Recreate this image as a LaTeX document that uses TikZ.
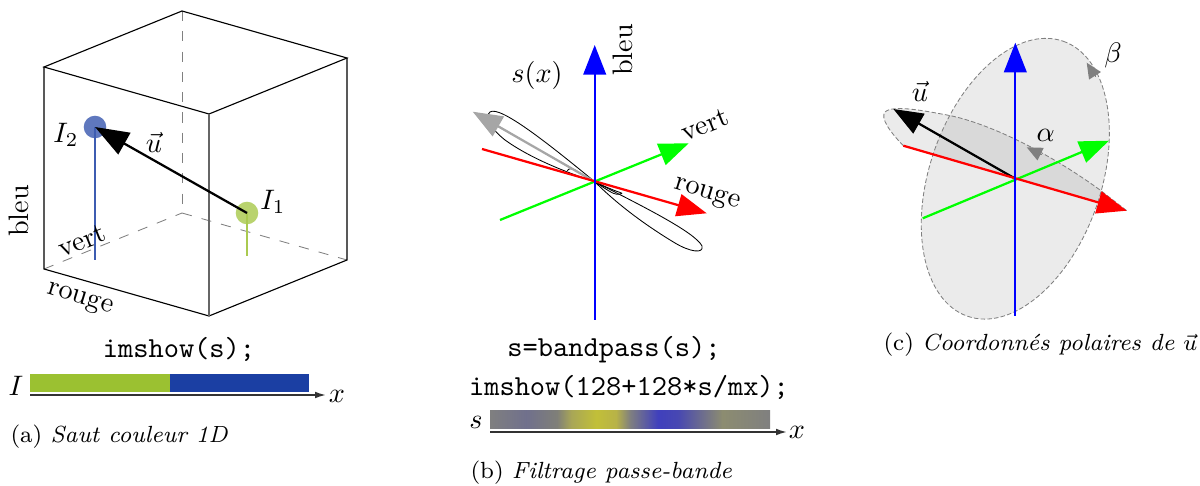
\documentclass[tikz,border=0pt]{standalone}
\usepackage{tikz}
\usetikzlibrary{arrows.meta,positioning}

\definecolor{sautvert}{RGB}{155,193,49}
\definecolor{sautbleu}{RGB}{27,63,163}
\pgfdeclarehorizontalshading{passebande}{100bp}{
    rgb(0bp)=(0.50,0.50,0.50);
    rgb(25bp)=(0.50,0.50,0.50);
    rgb(31.5bp)=(0.44,0.44,0.55);
    rgb(37bp)=(0.50,0.50,0.47);
    rgb(39.5bp)=(0.66,0.65,0.34);
    rgb(44bp)=(0.76,0.75,0.22);
    rgb(47.5bp)=(0.72,0.70,0.28);
    rgb(50bp)=(0.50,0.50,0.50);
    rgb(55bp)=(0.25,0.25,0.74);
    rgb(58.5bp)=(0.28,0.28,0.70);
    rgb(61.5bp)=(0.38,0.38,0.60);
    rgb(66.5bp)=(0.55,0.55,0.44);
    rgb(75bp)=(0.50,0.50,0.50);
    rgb(100bp)=(0.50,0.50,0.50)}

\begin{document}
\begin{tikzpicture}[
        x=0.355pt, y=-0.355pt,
        >=Latex,
        edge/.style={draw=black, line width=0.4pt},
        hidden/.style={draw=gray, line width=0.3pt, dash pattern=on 3.6pt off 3.6pt},
        axis/.style={line width=0.8pt, -{Triangle[length=10.5pt,width=8pt]}},
        stem/.style={line width=0.4pt},
        dot/.style={circle, inner sep=0pt, minimum size=8pt, opacity=0.7},
        ruler/.style={draw=black!80, line width=0.6pt, -{Latex[length=3.9pt,width=2.4pt]}},
        code/.style={font=\fontsize{10.3}{12}\ttfamily, inner sep=0pt},
        caption/.style={font=\fontsize{8.3}{10}\selectfont, inner sep=0pt, anchor=west},
        lobe/.style={draw=black, line width=0.3pt},
        plan/.style={fill=black, fill opacity=0.08},
        planedge/.style={draw=black!50, line width=0.3pt, dash pattern=on 1.6pt off 0.8pt},
        mark tip/.style={draw=gray, fill=gray, line width=0pt, -{Triangle[length=5.5pt,width=5pt]}}
    ]
        \useasboundingbox (0,0) rectangle (1200,486);

        \coordinate (cubeA) at (44,67);
        \coordinate (cubeB) at (182,11);
        \coordinate (cubeC) at (347,58);
        \coordinate (cubeD) at (209,114);
        \coordinate (cubeE) at (44,269);
        \coordinate (cubeF) at (182,213);
        \coordinate (cubeG) at (347,260);
        \coordinate (cubeH) at (209,316);
        \draw[hidden] (cubeB) -- (cubeF);
        \draw[hidden] (cubeE) -- (cubeF);
        \draw[hidden] (cubeF) -- (cubeG);
        \draw[edge] (cubeA) -- (cubeB) -- (cubeC) -- (cubeD) -- cycle;
        \draw[edge] (cubeA) -- (cubeE) -- (cubeH) -- (cubeG) -- (cubeC);
        \draw[edge, draw=black!60, line width=0.5pt] (cubeD) -- (cubeH);

        \node[dot, fill=sautbleu] (idos) at (95,127) {};
        \node[dot, fill=sautvert] (iun) at (247,213) {};
        \coordinate (idosbas) at (95,260);
        \coordinate (iunbas) at (247,256);
        \draw[stem, sautbleu!85] (idos.center) -- (idosbas);
        \draw[stem, sautvert!85] (iun.center) -- (iunbas);
        \draw[line width=0.8pt, black, -{Triangle[length=12pt,width=8.7pt]}] (iun.center) -- (idos.center);
        \node (idoslab) at (66,135) {$I_2$};
        \node (iunlab) at (273,202) {$I_1$};
        \node (ulab) at (154,142) {$\vec{u}$};
        \node[rotate=90] (bleua) at (19,211) {bleu};
        \node[rotate=22] (verta) at (82,241) {vert};
        \node[rotate=-17] (rougea) at (80,300) {rouge};

        \node[code] (codea) at (179,349) {imshow(s);};
        \fill[sautvert] (30,374) rectangle (169.5,392);
        \fill[sautbleu] (169.5,374) rectangle (309,392);
        \coordinate (rulera) at (30,395);
        \coordinate (rulerb) at (326,395);
        \draw[ruler] (rulera) -- (rulerb);
        \node (xa) at (337,396) {$x$};
        \node (ia) at (16,386) {$I$};
        \node[caption] (capa) at (10,437) {(a) \textit{Saut couleur 1D}};

        \coordinate (ob) at (594.7,181.7);
        \draw[lobe] (ob) .. controls (550,145) and (500,105) .. (490,112) .. controls (484,117) and (490,128) .. (505,140) .. controls (530,158) and (565,172) .. (ob);
        \draw[lobe] (ob) .. controls (640,205) and (695,232) .. (702,246) .. controls (704,254) and (690,252) .. (675,243) .. controls (650,228) and (620,207) .. (ob);
        \draw[lobe] plot[smooth, tension=0.6] coordinates {(567.3,170.7) (573.3,169.3) (ob) (613.3,190) (621.7,193.3) (613.3,193.3) (ob)};
        \coordinate (grisb) at (472.7,111.7);
        \draw[axis, gray!70] (ob) -- (grisb);
        \coordinate (vertbd) at (500,220);
        \coordinate (vertbf) at (688.7,143.3);
        \coordinate (rougebd) at (482,149);
        \coordinate (rougebf) at (706.7,213.3);
        \coordinate (bleubd) at (594.7,320);
        \coordinate (bleubf) at (594.7,45);
        \draw[axis, green] (vertbd) -- (vertbf);
        \draw[axis, red] (rougebd) -- (rougebf);
        \draw[axis, blue] (bleubd) -- (bleubf);
        \node[rotate=90] (bleub) at (622.7,50) {bleu};
        \node (sx) at (537,75) {$s(x)$};
        \node[rotate=22] (vertb) at (705,125) {vert};
        \node[rotate=-17] (rougeb) at (707,195) {rouge};

        \node[code] (codeb) at (614,350) {s=bandpass(s);};
        \node[code] (codec) at (629,387) {imshow(128+128*s/mx);};
        \shade[shading=passebande] (490,410) rectangle (770,428);
        \coordinate (rulerc) at (490,432);
        \coordinate (rulerd) at (787,432);
        \draw[ruler] (rulerc) -- (rulerd);
        \node (xb) at (797,432) {$x$};
        \node (sb) at (476,422) {$s$};
        \node[caption] (capb) at (470,473) {(b) \textit{Filtrage passe-bande}};

        \coordinate (oc) at (1015.3,178.7);
        \coordinate (rougecd) at (903.3,145.7);
        \coordinate (rougecf) at (1126.7,210.7);
        \path[plan, rotate around={70.8:(oc)}] (oc) ellipse [x radius=145.6, y radius=85.7];
        \path[plan] (rougecd) .. controls (890,132) and (880,118) .. (885,112) .. controls (893,104) and (930,112) .. (947,115) .. controls (985,122) and (1045,150) .. (1100,190) -- (rougecf) -- cycle;
        \draw[planedge, rotate around={70.8:(oc)}] (oc) ellipse [x radius=145.6, y radius=85.7];
        \draw[planedge] (rougecd) .. controls (890,132) and (880,118) .. (885,112) .. controls (893,104) and (930,112) .. (947,115) .. controls (985,122) and (1045,150) .. (1100,190) -- (rougecf);
        \coordinate (udc) at (893.3,109);
        \draw[axis, black] (oc) -- (udc);
        \coordinate (vertcd) at (922.7,218.3);
        \coordinate (vertcf) at (1109,140.7);
        \coordinate (bleucd) at (1015.3,315.7);
        \coordinate (bleucf) at (1015.3,42.7);
        \draw[axis, green] (vertcd) -- (vertcf);
        \draw[axis, red] (rougecd) -- (rougecf);
        \draw[axis, blue] (bleucd) -- (bleucf);
        \coordinate (betad) at (1095.3,76.3);
        \coordinate (betaf) at (1086.7,62.7);
        \coordinate (alphad) at (1041.7,154.7);
        \coordinate (alphaf) at (1026.7,147.3);
        \draw[mark tip] (betad) -- (betaf);
        \draw[mark tip] (alphad) -- (alphaf);
        \node (uc) at (920,91) {$\vec{u}$};
        \node (betalab) at (1113,55) {$\beta$};
        \node (alphalab) at (1045.7,135) {$\alpha$};
        \node[caption] (capc) at (883,345) {(c) \textit{Coordonnés polaires de $\vec{u}$}};
    \end{tikzpicture}
\end{document}
